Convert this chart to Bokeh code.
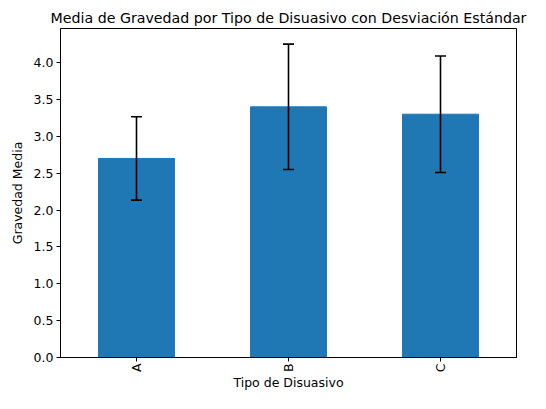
from bokeh.plotting import figure
from bokeh.models import ColumnDataSource, Whisker, TeeHead, FactorRange, FixedTicker, NumeralTickFormatter
from bokeh.embed import file_html
from bokeh.resources import INLINE
import math

categories = ["A", "B", "C"]
means = [2.70, 3.40, 3.30]
stds = [0.565, 0.85, 0.79]
y_ticks = [0.0, 0.5, 1.0, 1.5, 2.0, 2.5, 3.0, 3.5, 4.0]

upper = [m + s for m, s in zip(means, stds)]
lower = [m - s for m, s in zip(means, stds)]
src = ColumnDataSource(dict(cat=categories, mean=means, upper=upper, lower=lower))

FONT = "DejaVu Sans"
p = figure(width=530, height=393, x_range=FactorRange(*categories, range_padding=0),
           y_range=(0, max(upper) * 1.05), output_backend="svg", toolbar_location=None,
           title="Media de Gravedad por Tipo de Disuasivo con Desviación Estándar",
           min_border_left=60, min_border_right=14, min_border_top=28, min_border_bottom=31)

p.vbar(x="cat", top="mean", width=0.5, source=src, fill_color="#1f77b4", line_color="#1f77b4")

w = Whisker(source=src, base="cat", upper="upper", lower="lower", line_color="black", line_width=1.6,
            upper_head=TeeHead(size=11, line_color="black", line_width=1.6),
            lower_head=TeeHead(size=11, line_color="black", line_width=1.6),
            level="overlay")
p.add_layout(w)

p.title.text_font = FONT
p.title.text_font_size = "14.2px"
p.title.text_font_style = "normal"
p.title.text_color = "black"
p.title.align = "center"
p.title.offset = 0
p.title.standoff = 5

p.xgrid.visible = False
p.ygrid.visible = False
p.outline_line_color = "black"
p.outline_line_width = 1
p.outline_line_alpha = 1

for ax in (p.xaxis, p.yaxis):
    ax.axis_label_text_font = FONT
    ax.axis_label_text_font_size = "12.5px"
    ax.axis_label_text_font_style = "normal"
    ax.axis_label_text_color = "black"
    ax.major_label_text_font = FONT
    ax.major_label_text_font_size = "12.5px"
    ax.major_label_text_color = "black"
    ax.axis_line_color = "black"
    ax.major_tick_line_color = "black"
    ax.major_tick_out = 4
    ax.major_tick_in = 0
    ax.minor_tick_line_color = None

p.xaxis.axis_label = "Tipo de Disuasivo"
p.yaxis.axis_label = "Gravedad Media"
p.xaxis.major_label_orientation = math.pi / 2
p.xaxis.major_label_standoff = 2
p.xaxis.axis_label_standoff = 0
p.yaxis.major_label_standoff = 3
p.yaxis.axis_label_standoff = 6
p.yaxis.ticker = FixedTicker(ticks=y_ticks)
p.yaxis.formatter = NumeralTickFormatter(format="0.0")

open("out.html", "w").write(file_html(p, INLINE))
